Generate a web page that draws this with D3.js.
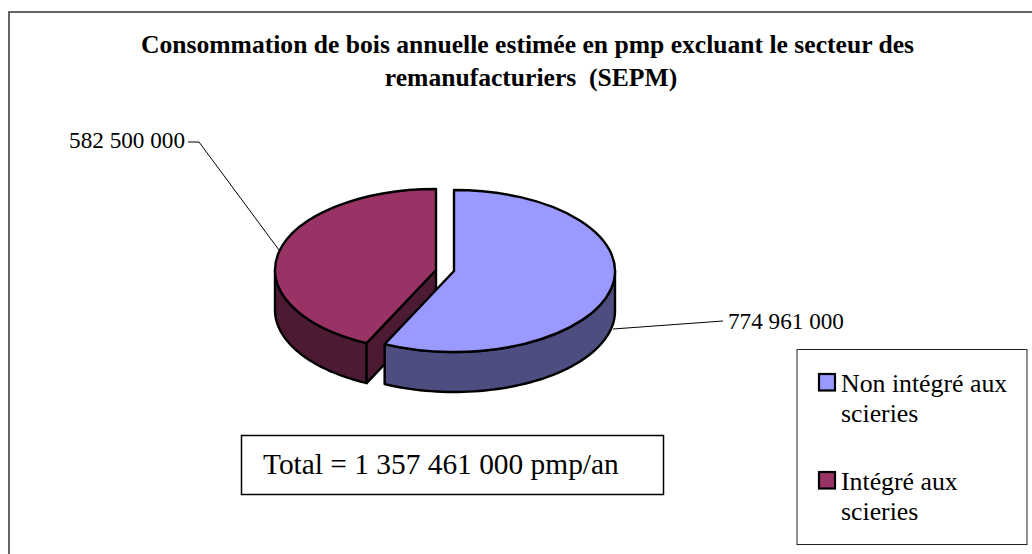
<!DOCTYPE html>
<html lang="fr">
<head>
    <meta charset="UTF-8">
    <script src="https://d3js.org/d3.v7.min.js"></script>
    <style>
        body { margin: 0; background: #fff; }
        svg { display: block; }
        text { font-family: "Liberation Serif", serif; fill: #000; white-space: pre; }
    </style>
</head>
<body>
    <div id="chart"></div>
    <script>
        const titleLines = ["Consommation de bois annuelle estimée en pmp excluant le secteur des", "remanufacturiers  (SEPM)"];
        const categories = ["Non intégré aux scieries", "Intégré aux scieries"];
        const values = [774961000, 582500000];
        const valueLabels = ["774 961 000", "582 500 000"];
        const legendLines = [["Non intégré aux", "scieries"], ["Intégré aux", "scieries"]];
        const totalLabel = "Total = 1 357 461 000 pmp/an";
        const topColors = ["#9999ff", "#993366"];
        const sideColors = ["#4d4d80", "#4d1a33"];

        const rx = 161, ry = 81, depth = 40;
        const centers = [[454, 271], [436, 270]];

        const svg = d3.select("#chart").append("svg")
            .attr("width", 1032)
            .attr("height", 554);

        const line = d3.line();

        // cadre : seuls les bords haut et gauche sont dans l'image
        svg.append("path").attr("d", line([[9, 554], [9, 12], [1032, 12]]))
            .attr("fill", "none").attr("stroke", "#333").attr("stroke-width", 1.5);

        // titre
        svg.selectAll(".title").data(titleLines).enter().append("text")
            .attr("class", "title")
            .attr("x", (d, i) => [527.5, 531][i])
            .attr("y", (d, i) => 53 + i * 33)
            .attr("text-anchor", "middle")
            .style("font-size", "25.6px")
            .style("font-weight", "bold")
            .text(d => d);

        const arcs = d3.pie().sort(null)(values);

        // point sur l'ellipse, angle compté depuis le haut
        const ellipse = (a, c) => [c[0] + rx * Math.sin(a), c[1] - ry * Math.cos(a)];

        // paroi extérieure visible entre deux angles
        function wall(a0, a1, c) {
            const n = 60;
            const top = d3.range(n + 1).map(i => ellipse(a0 + (a1 - a0) * i / n, c));
            const bottom = top.map(p => [p[0], p[1] + depth]).reverse();
            return line(top.concat(bottom)) + "Z";
        }

        const arcPath = d3.arc().innerRadius(0).outerRadius(rx);

        function topSlice(d, i) {
            const c = centers[i];
            svg.append("path")
                .attr("d", arcPath(d))
                .attr("transform", `translate(${c[0]},${c[1]}) scale(1,${ry / rx})`)
                .attr("vector-effect", "non-scaling-stroke")
                .attr("fill", topColors[i])
                .attr("stroke", "#000")
                .attr("stroke-width", 2.4)
                .attr("stroke-linejoin", "round");
        }

        function sidePath(p, i) {
            svg.append("path").attr("d", p)
                .attr("fill", sideColors[i])
                .attr("stroke", "#000")
                .attr("stroke-width", 2.4)
                .attr("stroke-linejoin", "round");
        }

        // part rouge d'abord, la part bleue passe devant
        const redCenter = centers[1], cut = arcs[1].startAngle;
        const redPt = ellipse(cut, redCenter);
        sidePath(wall(cut, 1.5 * Math.PI, redCenter), 1);
        sidePath(line([redCenter, redPt, [redPt[0], redPt[1] + depth], [redCenter[0], redCenter[1] + depth]]) + "Z", 1);
        topSlice(arcs[1], 1);

        sidePath(wall(Math.PI / 2, arcs[0].endAngle, centers[0]), 0);
        topSlice(arcs[0], 0);

        // lignes de rappel
        const leaders = [[[613, 329], [723, 321]], [[279, 250], [199, 142], [188, 142]]];
        svg.selectAll(".leader").data(leaders).enter().append("path")
            .attr("class", "leader")
            .attr("d", d => line(d))
            .attr("fill", "none")
            .attr("stroke", "#000")
            .attr("stroke-width", 1);

        svg.append("text").attr("x", 728).attr("y", 329).style("font-size", "23.2px").text(valueLabels[0]);
        svg.append("text").attr("x", 185).attr("y", 148).attr("text-anchor", "end").style("font-size", "23.2px").text(valueLabels[1]);

        // encadré du total
        svg.append("rect").attr("x", 241.5).attr("y", 435.5).attr("width", 422).attr("height", 59)
            .attr("fill", "#fff").attr("stroke", "#000").attr("stroke-width", 1.5);
        svg.append("text").attr("x", 263).attr("y", 474).style("font-size", "29.4px").text(totalLabel);

        // légende
        svg.append("rect").attr("x", 797).attr("y", 349.5).attr("width", 230).attr("height", 195)
            .attr("fill", "#fff").attr("stroke", "#222").attr("stroke-width", 1);
        const legend = svg.selectAll(".legend").data(categories).enter().append("g")
            .attr("class", "legend")
            .attr("transform", (d, i) => `translate(0,${i * 98})`);
        legend.append("rect")
            .attr("x", 819).attr("y", 374).attr("width", 16).attr("height", 16.5)
            .attr("fill", (d, i) => topColors[i])
            .attr("stroke", "#000").attr("stroke-width", 2.2);
        legend.each(function(d, i) {
            d3.select(this).selectAll("text").data(legendLines[i]).enter().append("text")
                .attr("x", 841)
                .attr("y", (t, j) => 392 + j * 30)
                .style("font-size", "25.8px")
                .text(t => t);
        });
    </script>
</body>
</html>
